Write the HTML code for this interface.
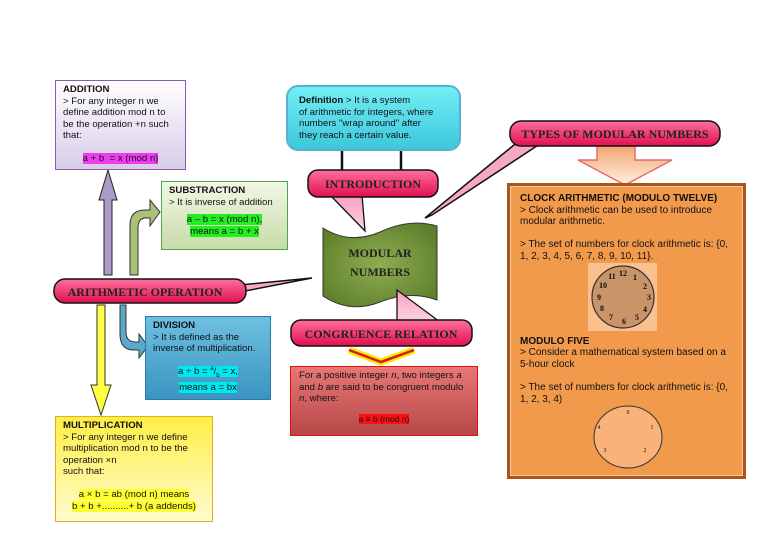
<!DOCTYPE html>
<html><head><meta charset="utf-8"><style>
body{margin:0;width:768px;height:543px;background:#fff;position:relative;overflow:hidden;font-family:"Liberation Sans",sans-serif;}
.box{position:absolute;box-sizing:border-box;font-size:9.6px;line-height:11.5px;color:#111;padding:3px 7px;}
.box b{font-weight:bold;}
.c{text-align:center;}
.hand{font-family:"Liberation Serif",serif;font-size:12px;fill:#222;}
</style></head><body>
<svg width="768" height="543" style="position:absolute;left:0;top:0">
<defs>
<linearGradient id="pk" x1="0" y1="0" x2="0" y2="1"><stop offset="0" stop-color="#ff6f9c"/><stop offset="1" stop-color="#e0104e"/></linearGradient>
<linearGradient id="pk2" x1="0" y1="0" x2="0" y2="1"><stop offset="0" stop-color="#f6a0c0"/><stop offset="1" stop-color="#ffd3e3"/></linearGradient>
<radialGradient id="gr" cx=".5" cy=".5" r=".6"><stop offset="0" stop-color="#8fae52"/><stop offset="1" stop-color="#5f7f2c"/></radialGradient>
<linearGradient id="og" x1="0" y1="0" x2="0" y2="1"><stop offset="0" stop-color="#f1a06a"/><stop offset="1" stop-color="#fff0e4"/></linearGradient>
</defs>
<polygon points="104,275 112,275 112,200 117,200 108,170 99,200 104,200" fill="#a99cc8" stroke="#222" stroke-width="1"/>
<path d="M130,275 L130,225 Q130,210 145,210 L150,210 L150,200 L160,212 L150,226 L150,218 L146,218 Q138,218 138,228 L138,275 Z" fill="#a8c27a" stroke="#333" stroke-width="1"/>
<polygon points="97,305 105,305 105,385 111,385 101,415 91,385 97,385" fill="#ffff44" stroke="#333" stroke-width="1"/>
<path d="M120,305 L126,305 L126,332 Q126,342 136,342 L139,342 L139,334 L148,346 L139,358 L139,350 L134,350 Q120,350 120,334 Z" fill="#5aa9cc" stroke="#333" stroke-width="1"/>
<path d="M240,285 L312,278 L240,292 Z" fill="#f7a8c4" stroke="#111" stroke-width="1.5"/>
<rect x="54" y="279" width="192" height="24" rx="11" fill="url(#pk)" stroke="#111" stroke-width="1.5"/>
<text x="145" y="296" text-anchor="middle" class="hand" font-size="11.5" font-weight="bold">ARITHMETIC OPERATION</text>
<line x1="342" y1="150" x2="342" y2="172" stroke="#111" stroke-width="2.5"/>
<line x1="401" y1="150" x2="401" y2="172" stroke="#111" stroke-width="2.5"/>
<path d="M330,195 L365,231 L362,195 Z" fill="url(#pk2)" stroke="#111" stroke-width="1.3"/>
<rect x="308" y="170" width="130" height="27" rx="10" fill="url(#pk)" stroke="#111" stroke-width="1.5"/>
<text x="373" y="188" text-anchor="middle" class="hand" font-weight="bold">INTRODUCTION</text>
<path d="M425,218 L520,140 L555,134 L432,215 Z" fill="#f7a8c4" stroke="#111" stroke-width="1.5"/>
<polygon points="597,143 635,143 635,160 672,160 625,185 578,160 597,160" fill="url(#og)" stroke="#e86a6a" stroke-width="1.5"/>
<rect x="510" y="121" width="210" height="25" rx="11" fill="url(#pk)" stroke="#111" stroke-width="1.5"/>
<text x="615" y="138" text-anchor="middle" class="hand" font-size="10.5" font-weight="bold">TYPES OF MODULAR NUMBERS</text>
<path d="M323,228 Q350,245 380,232 Q410,218 437,226 L437,300 Q410,290 380,302 Q350,314 323,296 Z" fill="url(#gr)" stroke="#333" stroke-width="1"/>
<text x="380" y="257" text-anchor="middle" class="hand" font-size="12.5" font-weight="bold">MODULAR</text>
<text x="380" y="276" text-anchor="middle" class="hand" font-size="12.5" font-weight="bold">NUMBERS</text>
<path d="M397,290 L397,322 L440,322 Z" fill="url(#pk2)" stroke="#111" stroke-width="1.3"/>
<rect x="291" y="320" width="181" height="26" rx="10" fill="url(#pk)" stroke="#111" stroke-width="1.5"/>
<text x="381" y="338" text-anchor="middle" class="hand" font-size="11.5" font-weight="bold">CONGRUENCE RELATION</text>
<polyline points="349,350 381,362 414,350" fill="none" stroke="#ffe800" stroke-width="7"/>
<polyline points="349,350 381,362 414,350" fill="none" stroke="#d81a1a" stroke-width="2.5"/>
</svg>

<div class="box" style="left:55px;top:80px;width:131px;height:90px;background:linear-gradient(#fff,#d8cce8);border:1.5px solid #8a5ab0;">
<b>ADDITION</b><br>&gt; For any integer n we define addition mod n to be the operation +n such that:<br><br><div class="c"><span style="background:#f03cf0">a + b &nbsp;= x (mod n)</span></div></div>

<div class="box" style="left:161px;top:181px;width:127px;height:69px;background:linear-gradient(#f2f7e6,#c8dba8);border:1.5px solid #4aa84a;">
<b>SUBSTRACTION</b><br>&gt; It is inverse of addition<br><div class="c" style="margin-top:6px"><span style="background:#22ee22">a – b = x (mod n),</span><br><span style="background:#22ee22">means a = b + x</span></div></div>

<div class="box" style="left:145px;top:316px;width:126px;height:84px;background:linear-gradient(#6ec0e0,#3a94c2);border:1.5px solid #2a7aa8;">
<b>DIVISION</b><br>&gt; It is defined as the inverse of multiplication.<div class="c" style="margin-top:9px"><span style="background:#00e8f0">a ÷ b = <sup style="font-size:6px">a</sup>/<sub style="font-size:6px">b</sub> = x,</span><br><span style="background:#00e8f0">means a = bx</span></div></div>

<div class="box" style="left:55px;top:416px;width:158px;height:106px;background:linear-gradient(#ffee44,#fffbd0);border:1.5px solid #e0b020;">
<b>MULTIPLICATION</b><br>&gt; For any integer n we define multiplication mod n to be the operation ×n<br>such that:<br><br><div class="c"><span style="background:#ffff30">a × b = ab (mod n) means</span><br><span style="background:#ffff30">b + b +..........+ b (a addends)</span></div></div>

<div class="box" style="left:286px;top:85px;width:175px;height:66px;background:linear-gradient(#72eef4,#3cc8dc);border:2px solid #5ab0d0;border-radius:12px;padding:8px 20px 8px 11px;">
<b>Definition</b> &gt; It is a system<br>of arithmetic for integers, where numbers "wrap around" after they reach a certain value.</div>

<div class="box" style="left:290px;top:366px;width:188px;height:70px;background:linear-gradient(#e87878,#b84848);border:1.5px solid #e01010;padding:3px 8px;">
For a positive integer <i>n</i>, two integers <i>a</i> and <i>b</i> are said to be congruent modulo <i>n</i>, where:<div class="c" style="margin-top:9px"><span style="background:#ff1010;font-size:8.5px">a ≡ b (mod n)</span></div></div>

<div style="position:absolute;left:507px;top:183px;width:239px;height:296px;box-sizing:border-box;background:#a8541c;padding:3px;">
<div style="width:100%;height:100%;box-sizing:border-box;border:1.5px solid #f6c8a0;background:#f29a4c;padding:0;">
<div class="box" style="position:relative;padding:6px 10px 6px 9px;font-size:10px;line-height:11.6px;">
<b>CLOCK ARITHMETIC (MODULO TWELVE)</b><br>&gt; Clock arithmetic can be used to introduce modular arithmetic.<br><br>&gt; The set of numbers for clock arithmetic is: {0, 1, 2, 3, 4, 5, 6, 7, 8, 9, 10, 11}.
<div style="height:73px"></div>
<b>MODULO FIVE</b><br>&gt; Consider a mathematical system based on a 5-hour clock<br><br>&gt; The set of numbers for clock arithmetic is: {0, 1, 2, 3, 4)
</div></div></div>

<svg width="768" height="543" style="position:absolute;left:0;top:0">
<rect x="588" y="263" width="69" height="68" fill="#fbc090"/>
<circle cx="623" cy="297" r="31" fill="#c89468" stroke="#333" stroke-width="1.2"/>
<g font-family="Liberation Serif,serif" font-size="8" font-weight="bold" fill="#111" text-anchor="middle">
<text x="623" y="276">12</text><text x="635" y="280">1</text><text x="645" y="289">2</text><text x="649" y="300">3</text><text x="645" y="312">4</text><text x="637" y="320">5</text><text x="624" y="324">6</text><text x="611" y="320">7</text><text x="602" y="311">8</text><text x="599" y="300">9</text><text x="603" y="288">10</text><text x="612" y="279">11</text>
</g>
<ellipse cx="628" cy="437" rx="34" ry="31" fill="#f9b27a" stroke="#333" stroke-width="1"/>
<g font-family="Liberation Serif,serif" font-size="6" fill="#111" text-anchor="middle">
<text x="628" y="414">0</text><text x="652" y="429">1</text><text x="645" y="452">2</text><text x="605" y="452">3</text><text x="599" y="429">4</text>
</g>
</svg>
</body></html>
